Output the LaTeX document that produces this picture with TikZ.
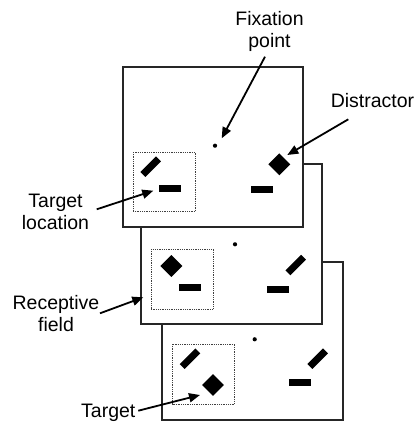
\documentclass[tikz,border=0pt]{standalone}
\usepackage{fontspec}
\setmainfont{Liberation Sans}
\usetikzlibrary{arrows.meta}
\begin{document}
\begin{tikzpicture}[x=1pt,y=-1pt,
  frame/.style={draw=black!85,line width=1.3pt,fill=white},
  rfbox/.style={draw=black!75,line width=0.8pt,dash pattern=on 0.9pt off 0.9pt},
  bar/.style={fill=black,draw=none,inner sep=0pt,minimum width=22pt,minimum height=7pt},
  tiltbar/.style={bar,rotate=45},
  diam/.style={fill=black,draw=none,inner sep=0pt,minimum width=15.5pt,minimum height=15.5pt,rotate=45},
  fixdot/.style={circle,fill=black,inner sep=0pt,minimum size=4.2pt},
  lbl/.style={font=\fontsize{19.5}{22}\selectfont,align=center,inner sep=0pt},
  pointer/.style={line width=1.8pt,-{Triangle[length=11pt,width=9pt]}}]
\useasboundingbox (0,0) rectangle (418,423);

% third display (back)
\draw[frame] (162,262) rectangle (343,420);
\draw[rfbox] (172.7,344) rectangle (234.7,404);
\node[fixdot] (fp3) at (254.7,339.3) {};
\node[tiltbar] (t3a) at (190,358.7) {};
\node[diam] (t3b) at (213,385) {};
\node[tiltbar] (d3a) at (317.7,358.7) {};
\node[bar] (d3b) at (299.5,382.3) {};

% second display
\draw[frame] (141,164) rectangle (322,324);
\draw[rfbox] (151.3,249) rectangle (213.3,309);
\node[fixdot] (fp2) at (235,244.3) {};
\node[diam] (t2a) at (171.3,266) {};
\node[bar] (t2b) at (190,287) {};
\node[tiltbar] (d2a) at (295.7,265) {};
\node[bar] (d2b) at (278.2,289) {};

% first display (front)
\draw[frame] (123,67) rectangle (303,227);
\draw[rfbox] (133.3,152) rectangle (195.3,211.7);
\node[fixdot] (fp1) at (215,145.7) {};
\node[tiltbar] (t1a) at (150.7,166.7) {};
\node[bar] (t1b) at (170.2,188) {};
\node[diam] (d1a) at (279.3,164.3) {};
\node[bar] (d1b) at (261.8,189.7) {};

% labels
\node[lbl] (fixlbl) at (269.5,31) {Fixation\\point};
\node[lbl] (dislbl) at (372.5,101) {Distractor};
\node[lbl] (tloclbl) at (55.5,211.5) {Target\\location};
\node[lbl] (rflbl) at (56,313.5) {Receptive\\field};
\node[lbl] (tgtlbl) at (108.3,412.5) {Target};

% pointer start and end points
\coordinate (fixs) at (265,56.7);
\coordinate (fixe) at (221.7,138.3);
\coordinate (diss) at (348.3,119.3);
\coordinate (dise) at (287.3,155);
\coordinate (tlocs) at (96.7,209.3);
\coordinate (tloce) at (153.3,190.7);
\coordinate (rfs) at (100,313.3);
\coordinate (rfe) at (143.3,297.3);
\coordinate (tgts) at (138.3,410.7);
\coordinate (tgte) at (200,395);

\draw[pointer] (fixs) -- (fixe);
\draw[pointer] (diss) -- (dise);
\draw[pointer] (tlocs) -- (tloce);
\draw[pointer] (rfs) -- (rfe);
\draw[pointer] (tgts) -- (tgte);
\end{tikzpicture}
\end{document}
